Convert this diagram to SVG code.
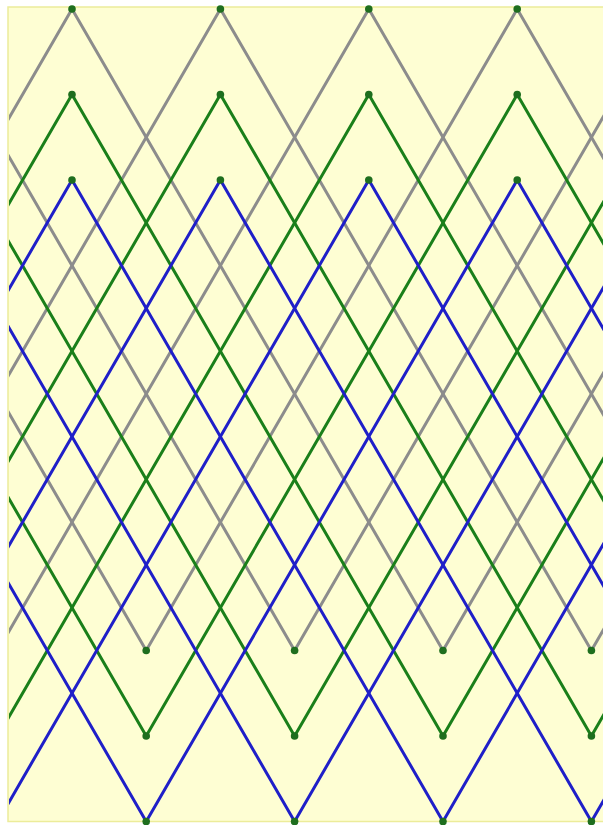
<svg xmlns="http://www.w3.org/2000/svg" xmlns:xlink="http://www.w3.org/1999/xlink" width="603" height="825" viewBox="0 0 603 825">
<style>
.zz{fill:none;stroke-width:3;stroke-linejoin:miter}
.dot{fill:#1e6e1e}
</style>
<defs>
<clipPath id="frame"><rect x="9" y="7" width="600" height="815"/></clipPath>
<g id="zig" class="zz">
<polyline points="-224.8,0 146.2,641.5 517.2,0 888.2,641.5"/>
<polyline points="-447.4,641.5 -76.4,0 294.6,641.5 665.6,0 1036.6,641.5"/>
<polyline points="-299,641.5 72,0 443,641.5 814,0"/>
<polyline points="-150.6,641.5 220.4,0 591.4,641.5 962.4,0"/>
<polyline points="-2.2,641.5 368.8,0 739.8,641.5"/>
</g>
<g id="dots" class="dot">
<circle cx="72" cy="0" r="3.8"/>
<circle cx="220.4" cy="0" r="3.8"/>
<circle cx="368.8" cy="0" r="3.8"/>
<circle cx="517.2" cy="0" r="3.8"/>
<circle cx="146.2" cy="641.5" r="3.8"/>
<circle cx="294.6" cy="641.5" r="3.8"/>
<circle cx="443" cy="641.5" r="3.8"/>
<circle cx="591.4" cy="641.5" r="3.8"/>
</g>
</defs>
<rect x="0" y="0" width="603" height="825" fill="#ffffff"/>
<rect x="8" y="7" width="600" height="814.5" fill="#fefed3" stroke="#ecec9a" stroke-width="1.5"/>
<g id="connectors" clip-path="url(#frame)">
<use xlink:href="#zig" href="#zig" y="9" stroke="#8c8c8c"/>
<use xlink:href="#zig" href="#zig" y="94.5" stroke="#1a7f1a"/>
<use xlink:href="#zig" href="#zig" y="180" stroke="#1f1fc8"/>
</g>
<g id="vertices-gray"><use xlink:href="#dots" href="#dots" y="9"/></g>
<g id="vertices-green"><use xlink:href="#dots" href="#dots" y="94.5"/></g>
<g id="vertices-blue"><use xlink:href="#dots" href="#dots" y="180"/></g>
</svg>
